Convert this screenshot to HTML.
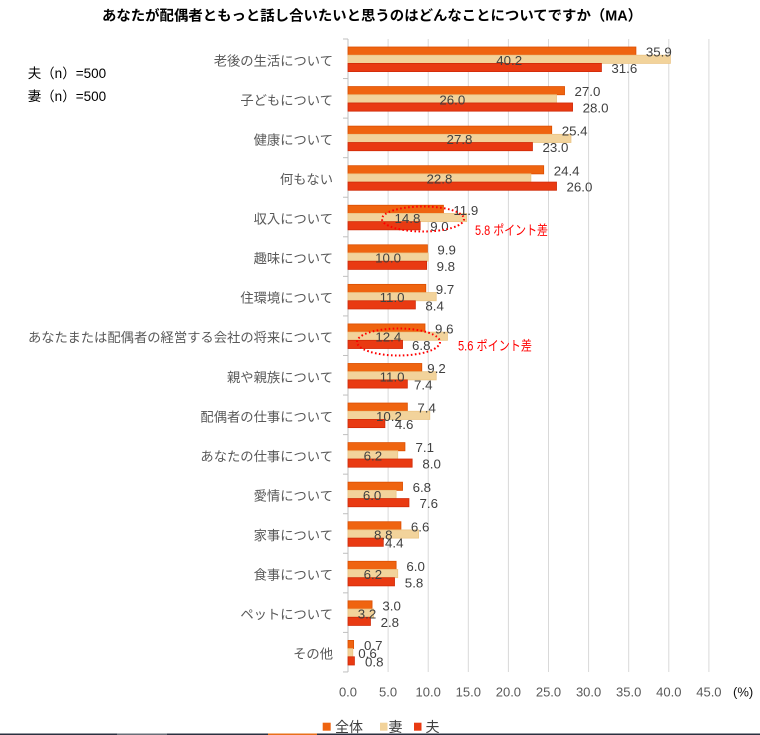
<!DOCTYPE html>
<html><head><meta charset="utf-8"><style>
html,body{margin:0;padding:0;background:#fff;}
svg{display:block;}
.cat{font-family:"Liberation Sans","Noto Sans CJK JP",sans-serif;font-size:13.3px;fill:#595959;text-anchor:end;}
.v{font-family:"Liberation Sans","Noto Sans CJK JP",sans-serif;font-size:13.3px;fill:#404040;}
.m{text-anchor:middle;}
.ax{font-family:"Liberation Sans",sans-serif;font-size:13px;fill:#595959;text-anchor:middle;}
.o{fill:#EF6410;stroke:#DC4E00;stroke-width:0.8;}
.t{fill:#F2D39B;stroke:#EBC585;stroke-width:0.8;}
.r{fill:#E93A12;stroke:#D02A08;stroke-width:0.8;}
</style></head><body>
<svg width="760" height="735" viewBox="0 0 760 735" xmlns="http://www.w3.org/2000/svg">
<rect width="760" height="735" fill="#fff"/>
<text x="372" y="20.5" text-anchor="middle" font-family="'Liberation Sans','Noto Sans CJK JP',sans-serif" font-size="14.4" font-weight="bold" fill="#000" textLength="540" lengthAdjust="spacingAndGlyphs">あなたが配偶者ともっと話し合いたいと思うのはどんなことについてですか（MA）</text>
<text x="27.7" y="78" font-family="'Liberation Sans','Noto Sans CJK JP',sans-serif" font-size="13.5" fill="#000">夫（n）=500</text>
<text x="27.7" y="101" font-family="'Liberation Sans','Noto Sans CJK JP',sans-serif" font-size="13.5" fill="#000">妻（n）=500</text>
<g stroke="#D9D9D9" stroke-width="1">
<line x1="388.1" y1="39" x2="388.1" y2="672"/><line x1="428.2" y1="39" x2="428.2" y2="672"/><line x1="468.3" y1="39" x2="468.3" y2="672"/><line x1="508.4" y1="39" x2="508.4" y2="672"/><line x1="548.5" y1="39" x2="548.5" y2="672"/><line x1="588.6" y1="39" x2="588.6" y2="672"/><line x1="628.7" y1="39" x2="628.7" y2="672"/><line x1="668.8" y1="39" x2="668.8" y2="672"/><line x1="708.9" y1="39" x2="708.9" y2="672"/>
</g>
<g stroke="#BFBFBF" stroke-width="1">
<line x1="348" y1="39" x2="348" y2="672"/>
<line x1="343" y1="39" x2="348" y2="39"/><line x1="343" y1="78.56" x2="348" y2="78.56"/><line x1="343" y1="118.12" x2="348" y2="118.12"/><line x1="343" y1="157.68" x2="348" y2="157.68"/><line x1="343" y1="197.24" x2="348" y2="197.24"/><line x1="343" y1="236.8" x2="348" y2="236.8"/><line x1="343" y1="276.36" x2="348" y2="276.36"/><line x1="343" y1="315.92" x2="348" y2="315.92"/><line x1="343" y1="355.48" x2="348" y2="355.48"/><line x1="343" y1="395.04" x2="348" y2="395.04"/><line x1="343" y1="434.6" x2="348" y2="434.6"/><line x1="343" y1="474.16" x2="348" y2="474.16"/><line x1="343" y1="513.72" x2="348" y2="513.72"/><line x1="343" y1="553.28" x2="348" y2="553.28"/><line x1="343" y1="592.84" x2="348" y2="592.84"/><line x1="343" y1="632.4" x2="348" y2="632.4"/><line x1="343" y1="671.96" x2="348" y2="671.96"/>
</g>

<g transform="translate(0,39)">
<text class="cat" x="333" y="26.3">老後の生活について</text>
<rect class="o" x="348" y="8" width="287.92" height="8.2"/><rect class="t" x="348" y="16.2" width="322.40" height="8.2"/><rect class="r" x="348" y="24.4" width="253.43" height="8.2"/>
<text class="v" x="645.9" y="17.6">35.9</text><text class="v m" x="509.2" y="25.8">40.2</text><text class="v" x="611.4" y="34">31.6</text>
</g>
<g transform="translate(0,78.56)">
<text class="cat" x="333" y="26.3">子どもについて</text>
<rect class="o" x="348" y="8" width="216.54" height="8.2"/><rect class="t" x="348" y="16.2" width="208.52" height="8.2"/><rect class="r" x="348" y="24.4" width="224.56" height="8.2"/>
<text class="v" x="574.5" y="17.6">27.0</text><text class="v m" x="452.3" y="25.8">26.0</text><text class="v" x="582.6" y="34">28.0</text>
</g>
<g transform="translate(0,118.12)">
<text class="cat" x="333" y="26.3">健康について</text>
<rect class="o" x="348" y="8" width="203.71" height="8.2"/><rect class="t" x="348" y="16.2" width="222.96" height="8.2"/><rect class="r" x="348" y="24.4" width="184.46" height="8.2"/>
<text class="v" x="561.7" y="17.6">25.4</text><text class="v m" x="459.5" y="25.8">27.8</text><text class="v" x="542.5" y="34">23.0</text>
</g>
<g transform="translate(0,157.68)">
<text class="cat" x="333" y="26.3">何もない</text>
<rect class="o" x="348" y="8" width="195.69" height="8.2"/><rect class="t" x="348" y="16.2" width="182.86" height="8.2"/><rect class="r" x="348" y="24.4" width="208.52" height="8.2"/>
<text class="v" x="553.7" y="17.6">24.4</text><text class="v m" x="439.4" y="25.8">22.8</text><text class="v" x="566.5" y="34">26.0</text>
</g>
<g transform="translate(0,197.24)">
<text class="cat" x="333" y="26.3">収入について</text>
<rect class="o" x="348" y="8" width="95.44" height="8.2"/><rect class="t" x="348" y="16.2" width="118.70" height="8.2"/><rect class="r" x="348" y="24.4" width="72.18" height="8.2"/>
<text class="v" x="453.4" y="17.6">11.9</text><text class="v m" x="407.4" y="25.8">14.8</text><text class="v" x="430.2" y="34">9.0</text>
</g>
<g transform="translate(0,236.8)">
<text class="cat" x="333" y="26.3">趣味について</text>
<rect class="o" x="348" y="8" width="79.40" height="8.2"/><rect class="t" x="348" y="16.2" width="80.20" height="8.2"/><rect class="r" x="348" y="24.4" width="78.60" height="8.2"/>
<text class="v" x="437.4" y="17.6">9.9</text><text class="v m" x="388.1" y="25.8">10.0</text><text class="v" x="436.6" y="34">9.8</text>
</g>
<g transform="translate(0,276.36)">
<text class="cat" x="333" y="26.3">住環境について</text>
<rect class="o" x="348" y="8" width="77.79" height="8.2"/><rect class="t" x="348" y="16.2" width="88.22" height="8.2"/><rect class="r" x="348" y="24.4" width="67.37" height="8.2"/>
<text class="v" x="435.8" y="17.6">9.7</text><text class="v m" x="392.1" y="25.8">11.0</text><text class="v" x="425.4" y="34">8.4</text>
</g>
<g transform="translate(0,315.92)">
<text class="cat" x="333" y="26.3">あなたまたは配偶者の経営する会社の将来について</text>
<rect class="o" x="348" y="8" width="76.99" height="8.2"/><rect class="t" x="348" y="16.2" width="99.45" height="8.2"/><rect class="r" x="348" y="24.4" width="54.54" height="8.2"/>
<text class="v" x="435.0" y="17.6">9.6</text><text class="v m" x="388.3" y="25.8">12.4</text><text class="v" x="412.0" y="34">6.8</text>
</g>
<g transform="translate(0,355.48)">
<text class="cat" x="333" y="26.3">親や親族について</text>
<rect class="o" x="348" y="8" width="73.78" height="8.2"/><rect class="t" x="348" y="16.2" width="88.22" height="8.2"/><rect class="r" x="348" y="24.4" width="59.35" height="8.2"/>
<text class="v" x="427.3" y="17.6">9.2</text><text class="v m" x="392.1" y="25.8">11.0</text><text class="v" x="414.0" y="34">7.4</text>
</g>
<g transform="translate(0,395.04)">
<text class="cat" x="333" y="26.3">配偶者の仕事について</text>
<rect class="o" x="348" y="8" width="59.35" height="8.2"/><rect class="t" x="348" y="16.2" width="81.80" height="8.2"/><rect class="r" x="348" y="24.4" width="36.89" height="8.2"/>
<text class="v" x="417.4" y="17.6">7.4</text><text class="v m" x="388.9" y="25.8">10.2</text><text class="v" x="394.9" y="34">4.6</text>
</g>
<g transform="translate(0,434.6)">
<text class="cat" x="333" y="26.3">あなたの仕事について</text>
<rect class="o" x="348" y="8" width="56.94" height="8.2"/><rect class="t" x="348" y="16.2" width="49.72" height="8.2"/><rect class="r" x="348" y="24.4" width="64.16" height="8.2"/>
<text class="v" x="415.5" y="17.6">7.1</text><text class="v m" x="372.9" y="25.8">6.2</text><text class="v" x="422.4" y="34">8.0</text>
</g>
<g transform="translate(0,474.16)">
<text class="cat" x="333" y="26.3">愛情について</text>
<rect class="o" x="348" y="8" width="54.54" height="8.2"/><rect class="t" x="348" y="16.2" width="48.12" height="8.2"/><rect class="r" x="348" y="24.4" width="60.95" height="8.2"/>
<text class="v" x="412.6" y="17.6">6.8</text><text class="v m" x="372.1" y="25.8">6.0</text><text class="v" x="419.5" y="34">7.6</text>
</g>
<g transform="translate(0,513.72)">
<text class="cat" x="333" y="26.3">家事について</text>
<rect class="o" x="348" y="8" width="52.93" height="8.2"/><rect class="t" x="348" y="16.2" width="70.58" height="8.2"/><rect class="r" x="348" y="24.4" width="35.29" height="8.2"/>
<text class="v" x="410.9" y="17.6">6.6</text><text class="v m" x="383.3" y="25.8">8.8</text><text class="v" x="385.0" y="34">4.4</text>
</g>
<g transform="translate(0,553.28)">
<text class="cat" x="333" y="26.3">食事について</text>
<rect class="o" x="348" y="8" width="48.12" height="8.2"/><rect class="t" x="348" y="16.2" width="49.72" height="8.2"/><rect class="r" x="348" y="24.4" width="46.52" height="8.2"/>
<text class="v" x="406.4" y="17.6">6.0</text><text class="v m" x="372.9" y="25.8">6.2</text><text class="v" x="404.8" y="34">5.8</text>
</g>
<g transform="translate(0,592.84)">
<text class="cat" x="333" y="26.3">ペットについて</text>
<rect class="o" x="348" y="8" width="24.06" height="8.2"/><rect class="t" x="348" y="16.2" width="25.66" height="8.2"/><rect class="r" x="348" y="24.4" width="22.46" height="8.2"/>
<text class="v" x="382.4" y="17.6">3.0</text><text class="v m" x="367" y="25.8">3.2</text><text class="v" x="380.6" y="34">2.8</text>
</g>
<g transform="translate(0,632.4)">
<text class="cat" x="333" y="26.3">その他</text>
<rect class="o" x="348" y="8" width="5.61" height="8.2"/><rect class="t" x="348" y="16.2" width="4.81" height="8.2"/><rect class="r" x="348" y="24.4" width="6.42" height="8.2"/>
<text class="v" x="364" y="17.6">0.7</text><text class="v m" x="367.5" y="25.8">0.6</text><text class="v" x="365" y="34">0.8</text>
</g>

<ellipse cx="423" cy="219" rx="41" ry="12.5" fill="none" stroke="#FF0000" stroke-width="2" stroke-dasharray="1.6 2.4"/>
<ellipse cx="398.5" cy="342" rx="41.5" ry="13.5" fill="none" stroke="#FF0000" stroke-width="2" stroke-dasharray="1.6 2.4"/>
<text x="475" y="235" font-family="'Liberation Sans','Noto Sans CJK JP',sans-serif" font-size="13.5" fill="#FF0000" textLength="73" lengthAdjust="spacingAndGlyphs">5.8 ポイント差</text>
<text x="458" y="350.5" font-family="'Liberation Sans','Noto Sans CJK JP',sans-serif" font-size="13.5" fill="#FF0000" textLength="74" lengthAdjust="spacingAndGlyphs">5.6 ポイント差</text>

<g>
<text class="ax" x="348" y="696.5">0.0</text><text class="ax" x="388.1" y="696.5">5.0</text><text class="ax" x="428.2" y="696.5">10.0</text><text class="ax" x="468.3" y="696.5">15.0</text><text class="ax" x="508.4" y="696.5">20.0</text><text class="ax" x="548.5" y="696.5">25.0</text><text class="ax" x="588.6" y="696.5">30.0</text><text class="ax" x="628.7" y="696.5">35.0</text><text class="ax" x="668.8" y="696.5">40.0</text><text class="ax" x="708.9" y="696.5">45.0</text>
<text x="733" y="696.5" font-family="'Liberation Sans',sans-serif" font-size="13" fill="#111">(%)</text>
</g>

<rect x="322.7" y="722.7" width="8" height="8" fill="#EF6410"/>
<text x="335" y="732" font-family="'Liberation Sans','Noto Sans CJK JP',sans-serif" font-size="14" fill="#404040">全体</text>
<rect x="380" y="722.7" width="7.5" height="8" fill="#F2D39B"/>
<text x="388.5" y="732" font-family="'Liberation Sans','Noto Sans CJK JP',sans-serif" font-size="14" fill="#404040">妻</text>
<rect x="414" y="722.7" width="7.5" height="8" fill="#E93A12"/>
<text x="425.5" y="732" font-family="'Liberation Sans','Noto Sans CJK JP',sans-serif" font-size="14" fill="#404040">夫</text>

<rect x="0" y="733.5" width="760" height="1.5" fill="#2B3140"/>
<rect x="117" y="733.5" width="50" height="1.5" fill="#6A6F78"/>
<rect x="268" y="733.5" width="49" height="1.5" fill="#E8701A"/>
</svg>
</body></html>
